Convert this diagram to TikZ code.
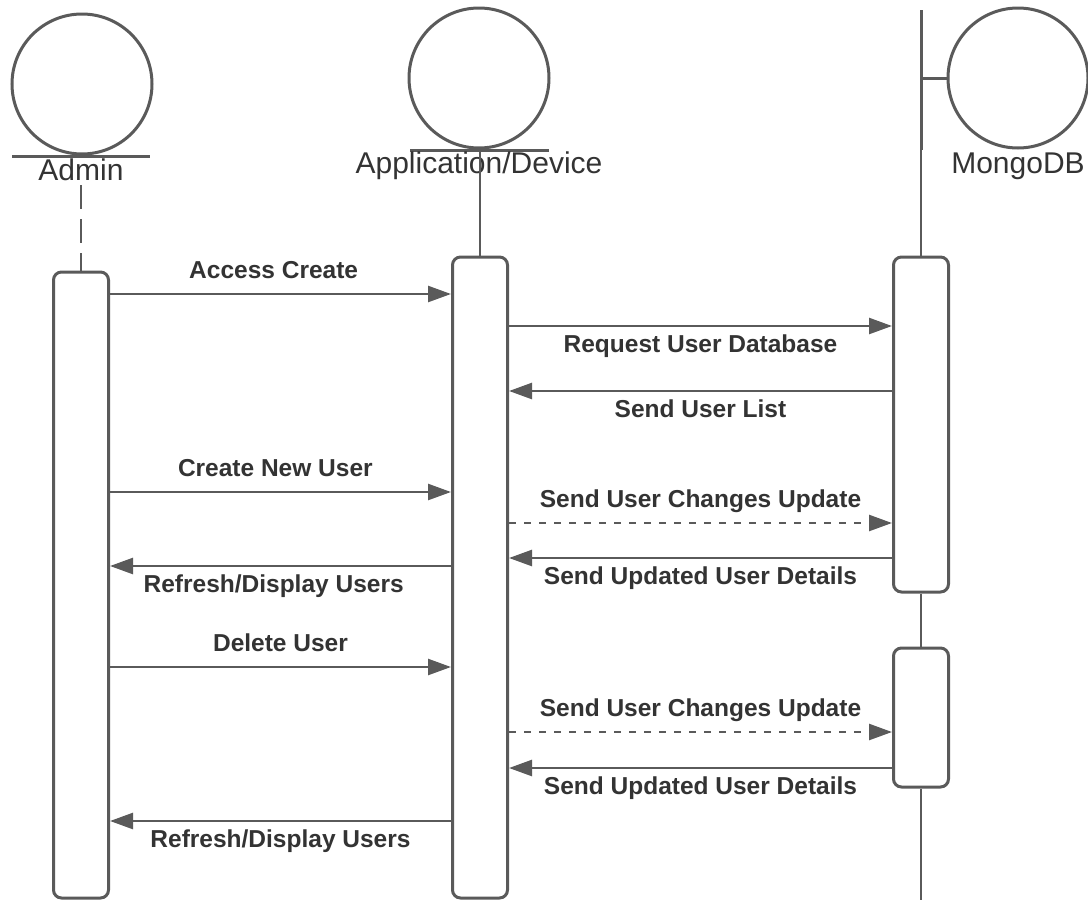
\documentclass[tikz,border=0pt]{standalone}
\usepackage{fontspec}
\setmainfont{Liberation Sans}
\usetikzlibrary{arrows.meta,calc}
\definecolor{umlgray}{HTML}{5A5A5A}
\definecolor{umltext}{HTML}{333333}

\begin{document}
\begin{tikzpicture}[x=1pt,y=-1pt]
\tikzstyle{every node}=[inner sep=0pt,text=umltext]
\tikzstyle{actor}=[circle,draw=umlgray,line width=3pt,minimum size=140pt]
\tikzstyle{actname}=[font=\fontsize{30}{30}\selectfont,anchor=base]
\tikzstyle{act}=[rectangle,draw=umlgray,fill=white,line width=3pt,rounded corners=8pt,minimum width=55pt]
\tikzstyle{life}=[draw=umlgray,line width=2pt]
\tikzstyle{msg}=[draw=umlgray,line width=2.5pt,-{Triangle[length=23pt,width=16pt]}]
\tikzstyle{dashmsg}=[msg,dash pattern=on 7pt off 8pt]
\tikzstyle{lbl}=[font=\fontsize{24.5}{24.5}\selectfont\bfseries,text height=17.5pt,text depth=0pt]
\useasboundingbox (0,0) rectangle (1088,903);
% actors
\node[actor] (admin) at (82,84) {};
\node[actor] (appdev) at (479,78) {};
\node[actor] (mongo) at (1018,78) {};
\draw[umlgray,line width=3pt] (admin.south) ++(-70,1) -- ++(138,0);
\draw[umlgray,line width=3pt] (appdev.south) ++(-69,1) -- ++(139,0);
\node[actname] (adminname) at (81,180) {Admin};
\node[actname] (appname) at (479,173) {Application/Device};
\node[actname] (mongoname) at (1018,173) {MongoDB};
% activation boxes
\node[act,minimum height=626pt] (adm) at (81,585) {};
\node[act,minimum height=641pt] (app) at (480,577.5) {};
\node[act,minimum height=335pt] (db1) at (921,424.5) {};
\node[act,minimum height=139pt] (db2) at (921,717.5) {};
% boundary bar of the database
\draw[umlgray,line width=3pt] (db1.north |- 0,10) -- (db1.north |- mongo.south);
\draw[umlgray,line width=3pt] (mongo.west) -- (mongo.west -| db1.north);
% lifelines
\draw[life,dash pattern=on 24pt off 10pt] ($(adminname.south)+(0,5)$) -- (adm.north);
\draw[life] (app.north |- appdev.south) -- (app.north);
\draw[life] (db1.north |- mongo.south) -- (db1.north);
\draw[life] (db1.south) -- (db2.north);
\draw[life] (db2.south) -- (db2.south |- app.south);
% messages
\draw[msg] (adm.east |- 0,294) -- node[lbl,above=14pt,pos=0.48] {Access Create} (app.west |- 0,294);
\draw[msg] (app.east |- 0,326) -- node[lbl,below=8pt] {Request User Database} (db1.west |- 0,326);
\draw[msg] (db1.west |- 0,391) -- node[lbl,below=8pt] {Send User List} (app.east |- 0,391);
\draw[msg] (adm.east |- 0,492) -- node[lbl,above=14pt,pos=0.485] {Create New User} (app.west |- 0,492);
\draw[dashmsg] (app.east |- 0,523) -- node[lbl,above=14pt] {Send User Changes Update} (db1.west |- 0,523);
\draw[msg] (db1.west |- 0,558) -- node[lbl,below=8pt] {Send Updated User Details} (app.east |- 0,558);
\draw[msg] (app.west |- 0,566) -- node[lbl,below=8pt,pos=0.52] {Refresh/Display Users} (adm.east |- 0,566);
\draw[msg] (adm.east |- 0,667) -- node[lbl,above=14pt] {Delete User} (app.west |- 0,667);
\draw[dashmsg] (app.east |- 0,732) -- node[lbl,above=14pt] {Send User Changes Update} (db2.west |- 0,732);
\draw[msg] (db2.west |- 0,768) -- node[lbl,below=8pt] {Send Updated User Details} (app.east |- 0,768);
\draw[msg] (app.west |- 0,821) -- node[lbl,below=8pt] {Refresh/Display Users} (adm.east |- 0,821);
\end{tikzpicture}
\end{document}
